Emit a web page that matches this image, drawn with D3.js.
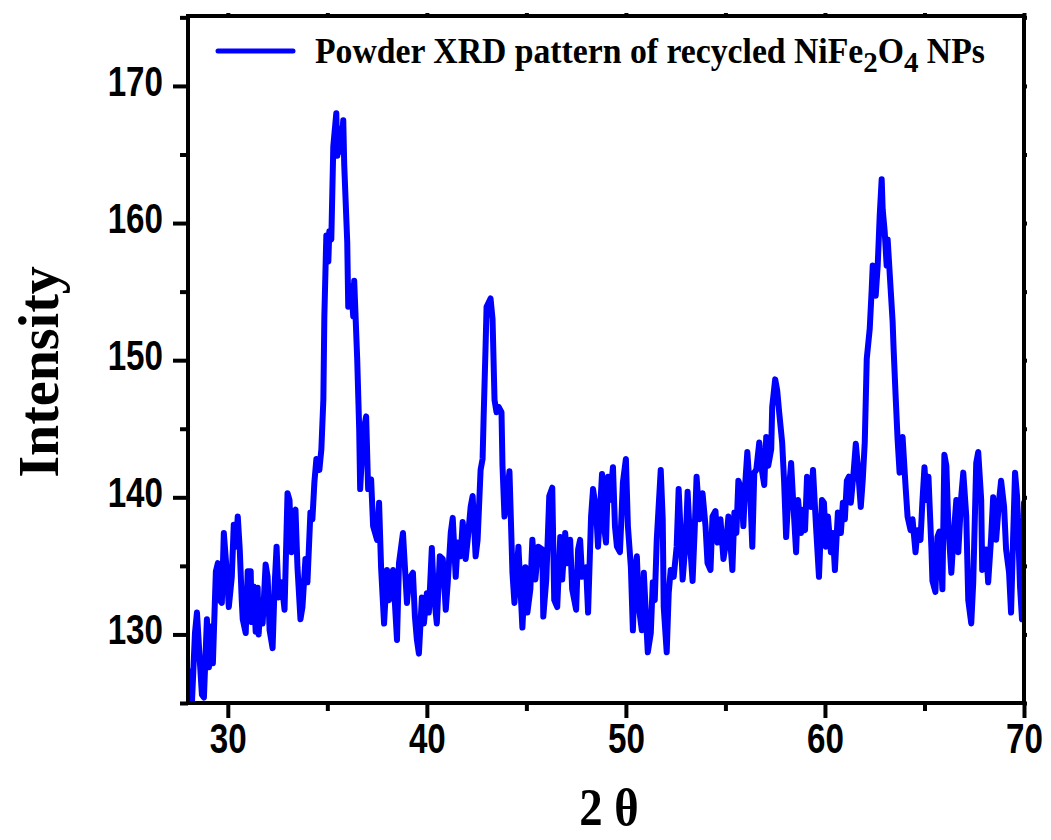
<!DOCTYPE html>
<html>
<head>
<meta charset="utf-8">
<script src="https://cdn.jsdelivr.net/npm/d3@7"></script>
<style>
  body { margin: 0; background: #fff; }
  .tick text { font-family: "Liberation Sans", Arial, sans-serif; font-weight: bold; fill: #000; }
  .tick line { stroke: #000; stroke-width: 4; }
</style>
</head>
<body>
<div id="chart"></div>
<script>
// XRD scan
const twoTheta = [
  28.0, 28.1, 28.2, 28.35, 28.45, 28.6, 28.7, 28.8, 28.95, 29.05, 29.2, 29.25, 29.4, 29.5, 29.6, 29.7, 29.8, 29.95,
  30.05, 30.2, 30.3, 30.4, 30.5, 30.6, 30.7, 30.75, 30.9, 31.0, 31.15, 31.2, 31.3, 31.4, 31.5, 31.55, 31.65, 31.75, 31.9,
  32.0, 32.1, 32.25, 32.35, 32.45, 32.55, 32.7, 32.85, 33.0, 33.1, 33.2, 33.3, 33.4, 33.5, 33.65, 33.75, 33.9,
  34.0, 34.15, 34.25, 34.35, 34.45, 34.6, 34.7, 34.8, 34.85, 34.95, 35.05, 35.1, 35.2, 35.3, 35.45, 35.5, 35.6, 35.7, 35.8, 35.85,
  36.0, 36.05, 36.2, 36.3, 36.35, 36.5, 36.6, 36.65, 36.8, 36.95, 37.05, 37.2, 37.3, 37.5, 37.6, 37.7, 37.85,
  38.0, 38.1, 38.3, 38.5, 38.6, 38.8, 39.0, 39.1, 39.3, 39.4, 39.5, 39.6, 39.75, 39.85,
  40.0, 40.1, 40.25, 40.35, 40.5, 40.65, 40.8, 40.95, 41.05, 41.2, 41.3, 41.45, 41.55, 41.7, 41.8, 41.95,
  42.05, 42.2, 42.3, 42.45, 42.55, 42.7, 42.8, 42.85, 42.95, 43.0, 43.2, 43.3, 43.4, 43.5, 43.6, 43.75, 43.8, 43.9,
  44.0, 44.15, 44.3, 44.4, 44.6, 44.8, 44.95, 45.05, 45.2, 45.3, 45.45, 45.6, 45.8, 45.85,
  46.0, 46.15, 46.3, 46.4, 46.55, 46.7, 46.8, 46.95, 47.05, 47.2, 47.3, 47.5, 47.6, 47.7, 47.8,
  48.0, 48.1, 48.25, 48.35, 48.5, 48.6, 48.8, 48.9, 49.0, 49.1, 49.2, 49.35, 49.45, 49.55, 49.7, 49.85,
  50.0, 50.1, 50.25, 50.35, 50.45, 50.55, 50.65, 50.8, 50.9, 51.05, 51.1, 51.25, 51.35, 51.45, 51.55, 51.75, 51.85, 51.9,
  52.05, 52.15, 52.25, 52.4, 52.55, 52.65, 52.75, 52.85, 53.0, 53.1, 53.25, 53.35, 53.45, 53.55, 53.7, 53.85,
  54.0, 54.1, 54.25, 54.35, 54.5, 54.6, 54.75, 54.9, 55.05, 55.15, 55.35, 55.45, 55.55, 55.65, 55.8, 55.9,
  56.0, 56.1, 56.25, 56.35, 56.45, 56.55, 56.7, 56.85, 56.95, 57.05, 57.15, 57.3, 57.35, 57.5, 57.6, 57.7, 57.85, 57.95,
  58.05, 58.15, 58.3, 58.4, 58.55, 58.65, 58.8, 58.9, 59.0, 59.1, 59.3, 59.4, 59.55, 59.7, 59.85, 59.95,
  60.05, 60.15, 60.3, 60.4, 60.5, 60.65, 60.8, 60.9, 61.0, 61.1, 61.2, 61.3, 61.45, 61.55, 61.65, 61.8, 61.9,
  62.0, 62.1, 62.25, 62.35, 62.4, 62.55, 62.65, 62.75, 62.85, 62.9, 63.0, 63.1, 63.15, 63.3, 63.4, 63.45, 63.55, 63.65, 63.75, 63.9,
  64.05, 64.15, 64.3, 64.4, 64.55, 64.65, 64.8, 64.9, 65.0, 65.1, 65.2, 65.35, 65.4, 65.55, 65.65, 65.75, 65.9,
  66.0, 66.1, 66.2, 66.35, 66.45, 66.6, 66.7, 66.85, 66.95, 67.1, 67.2, 67.35, 67.45, 67.6, 67.7, 67.85, 67.9,
  68.1, 68.2, 68.35, 68.45, 68.6, 68.75, 68.85, 69.0, 69.1, 69.25, 69.35, 69.45, 69.55, 69.65, 69.8, 69.9, 70.0
]
const intensity = [
  125.2, 127.3, 125.1, 130.1, 131.6, 127.9, 125.6, 125.4, 131.1, 127.6, 130.6, 127.9, 134.6, 135.2, 132.5, 132.3, 137.4, 134.5,
  132.0, 134.2, 138.0, 136.4, 138.6, 136.2, 132.5, 131.1, 130.1, 134.6, 134.6, 130.9, 133.5, 130.2, 133.4, 130.0, 132.5, 130.8, 135.1,
  134.2, 130.3, 129.0, 133.5, 136.4, 132.7, 133.8, 131.8, 140.3, 139.8, 136.0, 138.9, 139.1, 134.9, 131.1, 132.0, 135.5,
  133.8, 138.9, 138.4, 141.1, 142.8, 142.0, 143.5, 147.1, 153.2, 159.1, 157.2, 159.4, 158.8, 165.6, 168.0, 164.9, 166.9, 165.2, 167.5, 164.2,
  158.6, 153.9, 155.4, 153.2, 155.8, 150.1, 145.0, 140.6, 144.7, 145.9, 140.6, 141.3, 137.9, 136.9, 139.6, 134.9, 130.8,
  134.7, 132.5, 134.7, 129.6, 135.2, 137.4, 132.3, 134.0, 134.5, 131.3, 129.6, 128.6, 132.7, 130.8,
  133.0, 131.6, 136.3, 133.0, 130.8, 135.7, 135.5, 131.8, 133.8, 137.4, 138.5, 134.2, 136.7, 135.7, 138.2, 135.5,
  136.9, 139.3, 140.1, 135.7, 136.9, 142.0, 142.8, 145.7, 151.0, 153.9, 154.5, 153.0, 147.1, 146.2, 146.6, 146.2, 142.3, 138.6,
  139.8, 141.9, 134.5, 132.3, 136.4, 130.5, 134.9, 131.6, 133.3, 136.9, 134.0, 136.4, 136.2, 131.3,
  134.0, 140.1, 140.7, 132.5, 132.0, 137.1, 134.0, 137.4, 135.2, 136.9, 133.3, 131.8, 136.2, 136.9, 134.2,
  134.9, 131.6, 138.6, 140.6, 139.1, 136.4, 141.7, 137.9, 136.7, 141.5, 139.8, 142.2, 137.9, 136.4, 136.0, 141.1,
  142.8, 137.9, 134.9, 130.3, 134.5, 135.7, 132.0, 130.3, 134.5, 130.1, 128.7, 130.1, 133.8, 132.5, 136.9, 142.0, 138.4, 132.0,
  128.7, 133.0, 134.7, 134.2, 136.4, 140.6, 137.4, 134.0, 136.7, 140.4, 136.0, 133.9, 137.4, 141.5, 138.4, 140.3,
  137.9, 135.2, 134.7, 138.6, 139.0, 136.7, 138.4, 135.5, 136.9, 138.6, 134.7, 138.9, 137.4, 141.2, 140.6, 137.9,
  141.1, 143.3, 140.1, 136.4, 141.8, 142.0, 144.0, 141.8, 140.9, 144.4, 142.3, 143.5, 146.6, 148.6, 147.8, 146.2, 144.0, 141.1,
  137.1, 139.8, 142.5, 139.8, 136.0, 139.8, 137.4, 139.1, 137.6, 141.5, 139.3, 142.0, 137.9, 134.2, 139.8, 139.6,
  136.4, 138.6, 136.0, 137.4, 134.7, 138.9, 137.4, 139.6, 138.4, 141.2, 141.5, 139.6, 142.0, 143.9, 142.3, 139.3, 141.3,
  144.0, 150.1, 152.3, 155.2, 156.9, 154.7, 156.9, 160.5, 163.2, 161.0, 159.4, 156.9, 158.8, 155.2, 152.8, 150.8, 147.4, 144.2, 141.8, 144.4,
  140.8, 138.6, 137.6, 138.4, 136.0, 137.6, 136.9, 139.8, 142.2, 139.8, 141.5, 136.2, 133.9, 133.1, 137.1, 137.5, 133.3,
  143.1, 142.3, 137.9, 134.5, 136.9, 139.8, 136.0, 140.1, 141.8, 138.6, 132.5, 130.8, 133.8, 142.5, 143.3, 139.8, 134.7,
  136.2, 133.8, 137.1, 140.0, 136.9, 139.8, 141.2, 139.3, 136.2, 134.5, 131.6, 136.9, 141.8, 140.1, 133.5, 131.1, 139.6
]

const xMajor = [30, 40, 50, 60, 70]
const xMinor = [35, 45, 55, 65]
const yMajor = [130, 140, 150, 160, 170]
const yMinor = [125, 135, 145, 155, 165, 175]
const legendLabel = 'Powder XRD pattern of recycled NiFe'

const W = 1051, H = 840
const plotL = 188, plotR = 1024, plotT = 16, plotB = 703

const svg = d3.select('#chart').append('svg')
    .attr('width', W)
    .attr('height', H)

const x = d3.scaleLinear().domain([28, 70]).range([plotL, plotR])
const y = d3.scaleLinear().domain([125, 175.1]).range([plotB, plotT])

const data = twoTheta.map((t, i) => ({ t: t, v: intensity[i] }))

svg.append('clipPath').attr('id', 'clip')
  .append('rect')
    .attr('x', plotL).attr('y', plotT)
    .attr('width', plotR - plotL).attr('height', plotB - plotT)

const line = d3.line()
    .x(d => x(d.t))
    .y(d => y(d.v))

svg.append('path')
    .datum(data)
    .attr('clip-path', 'url(#clip)')
    .attr('fill', 'none')
    .attr('stroke', '#0000ff')
    .attr('stroke-width', 6)
    .attr('stroke-linejoin', 'round')
    .attr('stroke-linecap', 'round')
    .attr('d', line)

// axes: majors with labels, minors without
function noDomain(g) { g.select('.domain').remove() }

const bx = svg.append('g').attr('transform', `translate(0,${plotB})`)
    .call(d3.axisBottom(x).tickValues(xMajor).tickSize(15).tickFormat(d3.format('d')))
    .call(noDomain)
bx.selectAll('text')
    .attr('y', 50).attr('dy', 0)
    .style('font-size', '42px')
    .attr('transform', 'scale(0.79,1)')
svg.append('g').attr('transform', `translate(0,${plotB})`)
    .call(d3.axisBottom(x).tickValues(xMinor).tickSize(8).tickFormat(''))
    .call(noDomain)

const ly = svg.append('g').attr('transform', `translate(${plotL},0)`)
    .call(d3.axisLeft(y).tickValues(yMajor).tickSize(15).tickFormat(d3.format('d')))
    .call(noDomain)
ly.selectAll('text')
    .attr('x', -25 / 0.79).attr('dy', '0.22em')
    .style('font-size', '42px')
    .attr('transform', 'scale(0.79,1)')
svg.append('g').attr('transform', `translate(${plotL},0)`)
    .call(d3.axisLeft(y).tickValues(yMinor).tickSize(8).tickFormat(''))
    .call(noDomain)

// small ticks on the top and right edges
svg.append('g').attr('transform', `translate(0,${plotT})`)
    .call(d3.axisTop(x).tickValues(xMajor.concat(xMinor)).tickSize(3).tickFormat(''))
    .call(noDomain)
svg.append('g').attr('transform', `translate(${plotR},0)`)
    .call(d3.axisRight(y).tickValues(yMajor.concat(yMinor)).tickSize(3).tickFormat(''))
    .call(noDomain)
svg.selectAll('.tick line').attr('stroke-width', 4)

// frame
svg.append('rect')
    .attr('x', plotL).attr('y', plotT)
    .attr('width', plotR - plotL).attr('height', plotB - plotT)
    .attr('fill', 'none')
    .attr('stroke', '#000')
    .attr('stroke-width', 4)

// axis titles
svg.append('text')
    .attr('transform', 'translate(58,372) rotate(-90)')
    .attr('text-anchor', 'middle')
    .style('font-family', '"Liberation Serif", "Times New Roman", serif')
    .style('font-weight', 'bold')
    .style('font-size', '56px')
    .text('Intensity')

svg.append('text')
    .attr('transform', 'translate(609,825) scale(0.9,1)')
    .attr('text-anchor', 'middle')
    .style('font-family', '"Liberation Serif", "Times New Roman", serif')
    .style('font-weight', 'bold')
    .style('font-size', '52px')
    .text('2 θ')

// legend
svg.append('line')
    .attr('x1', 218).attr('x2', 293)
    .attr('y1', 51).attr('y2', 51)
    .attr('stroke', '#0000ff')
    .attr('stroke-width', 5)
    .attr('stroke-linecap', 'round')

const leg = svg.append('text')
    .attr('x', 0).attr('y', 0)
    .style('font-family', '"Liberation Serif", "Times New Roman", serif')
    .style('font-weight', 'bold')
    .style('font-size', '35px')
leg.append('tspan').text(legendLabel)
leg.append('tspan').attr('dy', 9).style('font-size', '30px').text('2')
leg.append('tspan').attr('dy', -9).text('O')
leg.append('tspan').attr('dy', 9).style('font-size', '30px').text('4')
leg.append('tspan').attr('dy', -9).text(' NPs')
const legW = leg.node().getBBox().width
leg.attr('transform', `translate(315,63) scale(${670 / legW},1)`)
</script>
</body>
</html>
